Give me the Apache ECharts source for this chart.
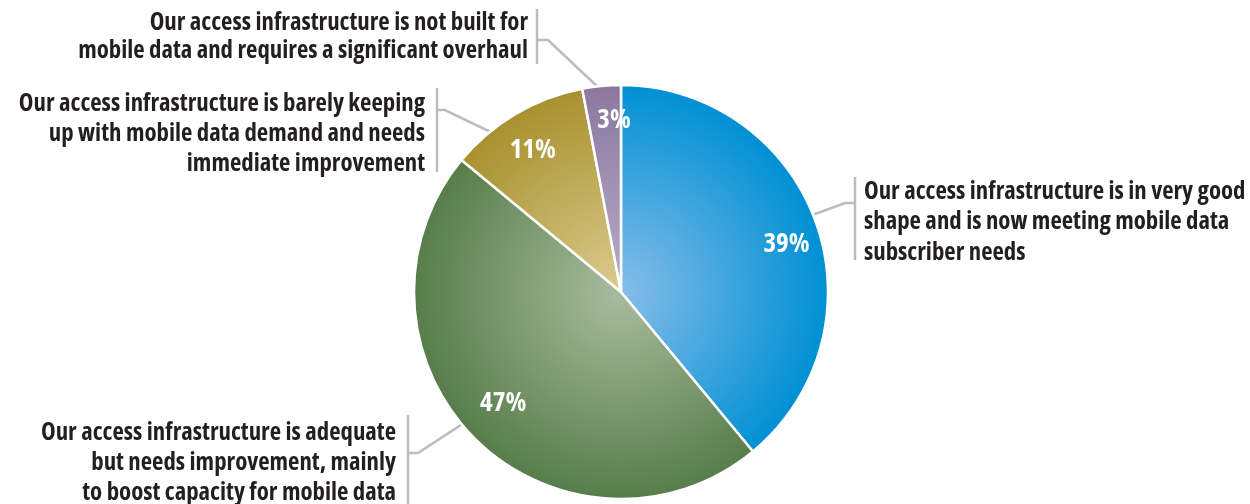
<!DOCTYPE html>
<html>
<head>
<meta charset="utf-8">
<script src="https://cdn.jsdelivr.net/npm/echarts@6/dist/echarts.min.js"></script>
<style>
  html, body { margin: 0; padding: 0; background: #ffffff; }
  #chart { width: 1250px; height: 504px; }
</style>
</head>
<body>
<div id="chart"></div>
<script>
// Survey answers, in clockwise order from 12 o'clock
const categories = [
  'Our access infrastructure is in very good\nshape and is now meeting mobile data\nsubscriber needs',
  'Our access infrastructure is adequate\nbut needs improvement, mainly\nto boost capacity for mobile data',
  'Our access infrastructure is barely keeping\nup with mobile data demand and needs\nimmediate improvement',
  'Our access infrastructure is not built for\nmobile data and requires a significant overhaul'
];
const shares = [39, 47, 11, 3];

// Slice shading: light centre -> saturated rim
const sliceColors = [
  ['#86bde9', '#0090d4'],
  ['#a9bc9f', '#587d4a'],
  ['#dccb8f', '#a8912f'],
  ['#b9abca', '#8a78a0']
];

const CX = 621, CY = 292, R = 207;
const FONT = "'Open Sans', 'Roboto', sans-serif";
const WEIGHT = 'bold condensed';

// Placement of the descriptive labels and their bracket guides
const labelPlacement = [
  { x: 864, y: 222, align: 'left',  lh: 30.5, barX: 855, barTop: 177, barBottom: 260, elbowY: 203, elbowDX: -10, frac: 0.483, r: 180 },
  { x: 396, y: 463, align: 'right', lh: 30,   barX: 408, barTop: 415, barBottom: 504, elbowY: 453, elbowDX: 10,  frac: 0.528, r: 192 },
  { x: 425, y: 134, align: 'right', lh: 30,   barX: 437, barTop: 88,  barBottom: 172, elbowY: 110, elbowDX: 8,   frac: 0.298, r: 202 },
  { x: 528, y: 37,  align: 'right', lh: 27.5, barX: 537, barTop: 9,   barBottom: 64,  elbowY: 40,  elbowDX: 11,  frac: 0.41,  r: 206 }
];
// Nudges for the percentage labels
const pctOffset = [[6, 10], [2, -9], [-2, 4], [9, -3]];

const total = shares.reduce((a, b) => a + b, 0);
const sliceStart = [];
shares.reduce((acc, v, i) => { sliceStart[i] = acc; return acc + v; }, 0);

function polar(deg, r) {
  const t = deg * Math.PI / 180;
  return [CX + r * Math.sin(t), CY - r * Math.cos(t)];
}

const chart = echarts.init(document.getElementById('chart'), null, { renderer: 'canvas' });

const baseData = shares.map((v, i) => ({
  name: categories[i],
  value: v,
  itemStyle: {
    color: {
      type: 'radial', x: CX, y: CY, r: R, global: true,
      colorStops: [
        { offset: 0, color: sliceColors[i][0] },
        { offset: 1, color: sliceColors[i][1] }
      ]
    }
  }
}));

const clear = { color: 'rgba(0,0,0,0)', borderWidth: 0 };

chart.setOption({
  animation: false,
  backgroundColor: '#ffffff',
  series: [
    {
      // coloured slices
      type: 'pie',
      center: [CX, CY],
      radius: [0, R],
      startAngle: 90,
      clockwise: true,
      silent: true,
      label: { show: false },
      labelLine: { show: false },
      itemStyle: { borderColor: '#ffffff', borderWidth: 2.5 },
      emphasis: { disabled: true },
      data: baseData
    },
    {
      // percentage labels inside the slices
      type: 'pie',
      center: [CX, CY],
      radius: [0, 333],
      startAngle: 90,
      clockwise: true,
      silent: true,
      itemStyle: clear,
      emphasis: { disabled: true },
      label: {
        show: true,
        position: 'inside',
        formatter: p => p.value + '%',
        color: '#ffffff',
        fontFamily: FONT,
        fontWeight: WEIGHT,
        fontSize: 27
      },
      labelLine: { show: false },
      data: shares.map((v, i) => ({
        name: categories[i],
        value: v,
        label: { offset: pctOffset[i] }
      }))
    },
    {
      // descriptive labels with bracket guides
      type: 'pie',
      center: [CX, CY],
      radius: [0, R],
      startAngle: 90,
      clockwise: true,
      silent: true,
      itemStyle: clear,
      emphasis: { disabled: true },
      avoidLabelOverlap: false,
      label: {
        show: true,
        position: 'outside',
        formatter: '{b}',
        color: '#231f20',
        fontFamily: FONT,
        fontWeight: WEIGHT,
        fontSize: 24.8
      },
      labelLine: {
        show: true,
        length: 10,
        length2: 10,
        lineStyle: { color: '#bcbcbc', width: 2.5 }
      },
      labelLayout: function (params) {
        const i = params.dataIndex;
        const p = labelPlacement[i];
        const a0 = sliceStart[i] / total * 360;
        const a1 = (sliceStart[i] + shares[i]) / total * 360;
        const start = polar(a0 + (a1 - a0) * p.frac, p.r);
        return {
          x: p.x,
          y: p.y,
          align: p.align,
          verticalAlign: 'middle',
          labelLinePoints: [
            start,
            [p.barX + p.elbowDX, p.elbowY],
            [p.barX, p.elbowY],
            [p.barX, p.barTop],
            [p.barX, p.barBottom]
          ]
        };
      },
      data: shares.map((v, i) => ({
        name: categories[i],
        value: v,
        label: { lineHeight: labelPlacement[i].lh, align: labelPlacement[i].align }
      }))
    }
  ]
});
</script>
</body>
</html>
